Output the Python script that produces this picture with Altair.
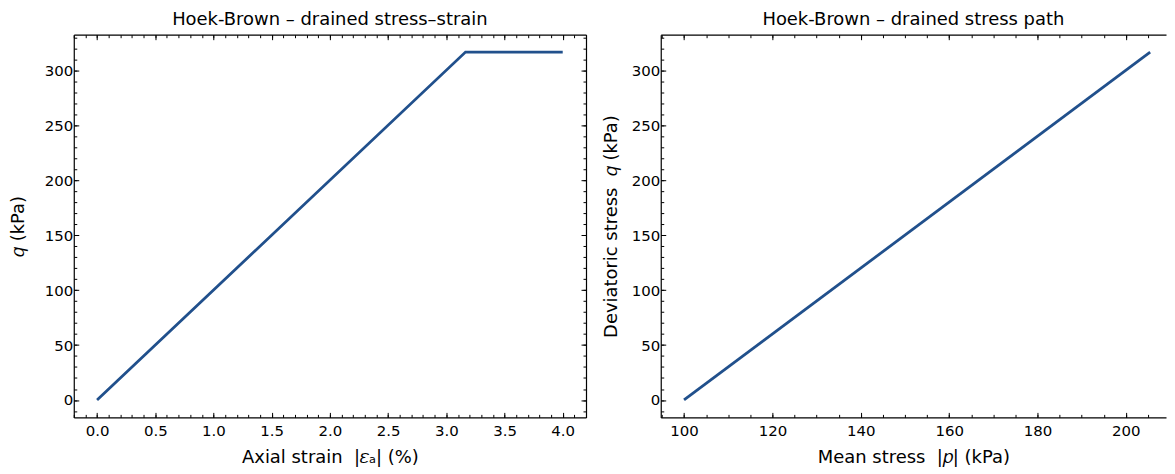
import altair as alt
import pandas as pd

# ---- data ----
strain = [0.0, 3.165, 4.0]          # axial strain |eps_a| (%)
q_ss = [0.0, 316.5, 316.5]          # deviatoric stress q (kPa)
p_path = [100.0, 205.5]             # mean stress |p| (kPa)
q_path = [0.0, 316.5]               # deviatoric stress q (kPa)

# tick values
x1_major = [0.0, 0.5, 1.0, 1.5, 2.0, 2.5, 3.0, 3.5, 4.0]
x1_minor = [round(-0.2 + 0.1 * i, 1) for i in range(45)]
y_major = [0, 50, 100, 150, 200, 250, 300]
y_minor = [-10 + 10 * i for i in range(35)]
x2_major = [100, 120, 140, 160, 180, 200]
x2_minor = [95 + 5 * i for i in range(24)]

FONT = "DejaVu Sans"
LINE = "#21508c"
MAJ, MIN = 5, 3
NB = "\u00a0"

df1 = pd.DataFrame({"strain": strain, "q": q_ss})
df2 = pd.DataFrame({"p": p_path, "q": q_path})


def axis(orient, values, major, labels=False, title=None, fmt=None, domain=False, tpad=6, lpad=6):
    kw = dict(
        orient=orient,
        values=values,
        tickSize={"expr": str(-(MAJ if major else MIN))},
        ticks=True,
        tickColor="black",
        tickWidth=1,
        labels=labels,
        domain=domain,
        domainColor="black",
        domainWidth=1.2,
        grid=False,
    )
    if labels:
        kw.update(labelFont=FONT, labelFontSize=15, labelColor="black", labelPadding=lpad)
    if fmt:
        kw["format"] = fmt
    if title:
        kw.update(title=title, titleFont=FONT, titleFontSize=18, titleFontWeight="normal",
                  titleColor="black", titlePadding=tpad)
    else:
        kw["title"] = None
    return alt.Axis(**kw)


def panel(df, xf, yf, xdom, ydom, xmaj, xmin, xfmt, xtitle, ytitle, title, w, h, ytpad, right=True):
    xs = alt.Scale(domain=xdom, nice=False, zero=False)
    ys = alt.Scale(domain=ydom, nice=False, zero=False)
    base = alt.Chart(df)
    l1 = base.mark_line(color=LINE, strokeWidth=2.8, clip=True).encode(
        x=alt.X(f"{xf}:Q", scale=xs,
                axis=axis("bottom", xmaj, True, labels=True, title=xtitle, fmt=xfmt, domain=True, tpad=10, lpad=11)),
        y=alt.Y(f"{yf}:Q", scale=ys,
                axis=axis("left", y_major, True, labels=True, title=ytitle, fmt="d", domain=True, tpad=ytpad, lpad=6)),
    )
    l2 = base.mark_line(opacity=0).encode(
        x=alt.X(f"{xf}:Q", scale=xs, axis=axis("bottom", xmin, False)),
        y=alt.Y(f"{yf}:Q", scale=ys, axis=axis("left", y_minor, False)),
    )
    l3 = base.mark_line(opacity=0).encode(
        x=alt.X(f"{xf}:Q", scale=xs, axis=axis("top", xmaj, True, domain=True)),
        y=alt.Y(f"{yf}:Q", scale=ys, axis=axis("right", y_major, True, domain=True) if right else None),
    )
    l4 = base.mark_line(opacity=0).encode(
        x=alt.X(f"{xf}:Q", scale=xs, axis=axis("top", xmin, False)),
        y=alt.Y(f"{yf}:Q", scale=ys, axis=axis("right", y_minor, False) if right else None),
    )
    return (
        alt.layer(l1, l2, l3, l4)
        .resolve_axis(x="independent", y="independent")
        .properties(
            width=w,
            height=h,
            title=alt.TitleParams(title, font=FONT, fontSize=18, fontWeight="normal",
                                  color="black", anchor="middle", offset=5),
        )
    )


ydom = [-15.825, 332.325]
left = panel(df1, "strain", "q", [-0.2, 4.2], ydom, x1_major, x1_minor, ".1f",
             f"Axial strain {NB}|𝜀ₐ| (%)", "𝑞 (kPa)",
             "Hoek-Brown – drained stress–strain", 514, 384, ytpad=17)
right = panel(df2, "p", "q", [94.725, 209.09], ydom, x2_major, x2_minor, "d",
              f"Mean stress {NB}|𝑝| (kPa)", f"Deviatoric stress {NB}𝑞 (kPa)",
              "Hoek-Brown – drained stress path", 507, 384, ytpad=11, right=False)

chart = (
    alt.hconcat(left, right, spacing=14)
    .properties(padding={"left": 0, "right": 0, "top": 2, "bottom": 0}, background="white")
    .configure_view(stroke="transparent")
)

chart.save("out.html", embed_options={"renderer": "svg", "actions": False})
